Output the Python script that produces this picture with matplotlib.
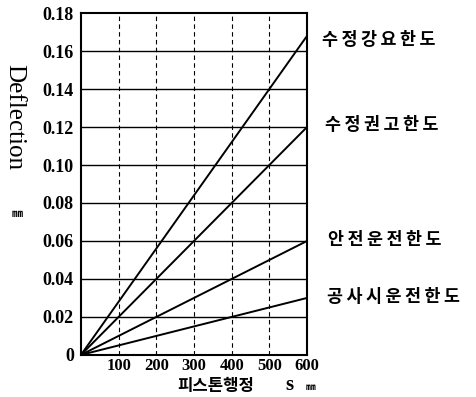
import numpy as np
import matplotlib
matplotlib.use("Agg")
import matplotlib.pyplot as plt

stroke = [0, 600]
limit_names = ['수정강요한도', '수정권고한도', '안전운전한도', '공사시운전한도']
limit_at_600 = [0.168, 0.12, 0.06, 0.03]
label_x = [640, 648, 656, 653]
label_y = [0.1658, 0.121, 0.0605, 0.0305]
xticks = [100, 200, 300, 400, 500, 600]
yticks = [0, 0.02, 0.04, 0.06, 0.08, 0.10, 0.12, 0.14, 0.16, 0.18]
ytick_labels = ['0', '0.02', '0.04', '0.06', '0.08', '0.10', '0.12', '0.14', '0.16', '0.18']

kr = ['Noto Sans CJK KR', 'DejaVu Sans']
serif = 'Liberation Serif'

fig = plt.figure(figsize=(4.76, 3.97), dpi=100)
ax = fig.add_axes([0.170, 0.106, 0.475, 0.861])

for v in yticks[1:-1]:
    ax.axhline(v, color='black', lw=1.0, zorder=1)
for v in xticks[:-1]:
    ax.axvline(v, color='black', lw=0.8, ls=(0, (4, 3)), zorder=1)

for name, top, lx, ly in zip(limit_names, limit_at_600, label_x, label_y):
    ax.plot(stroke, [0, top], color='black', lw=1.4, zorder=2)
    ax.text(lx, ly, '\u2009'.join(name), family=kr, fontsize=12.5, fontweight='bold',
            va='center', ha='left', clip_on=False)

ax.set_xlim(0, 600)
ax.set_ylim(0, 0.18)
ax.set_xticks(xticks)
ax.set_xticklabels([str(t) for t in xticks], family=serif, fontweight='bold', fontsize=12)
ax.set_yticks(yticks)
ax.set_yticklabels(ytick_labels, family=serif, fontweight='bold', fontsize=13)
ax.tick_params(axis='y', length=0, pad=5)
ax.tick_params(axis='x', length=0, pad=2)
for s in ax.spines.values():
    s.set_linewidth(1.5)

fig.text(0.03, 0.705, 'Deflection', family=serif, fontsize=18, rotation=270,
         ha='center', va='center')
fig.text(0.037, 0.463, '㎜', family=kr, fontsize=8, fontweight='bold', ha='center', va='center')
fig.text(0.454, 0.004, '피스톤행정', family=kr, fontsize=12, fontweight='bold', ha='center', va='bottom')
fig.text(0.609, 0.006, 's', family=serif, fontsize=15, fontweight='bold', ha='center', va='bottom')
fig.text(0.653, 0.012, '㎜', family=kr, fontsize=7, fontweight='bold', ha='center', va='bottom')

fig.savefig('out.png', dpi=100)
